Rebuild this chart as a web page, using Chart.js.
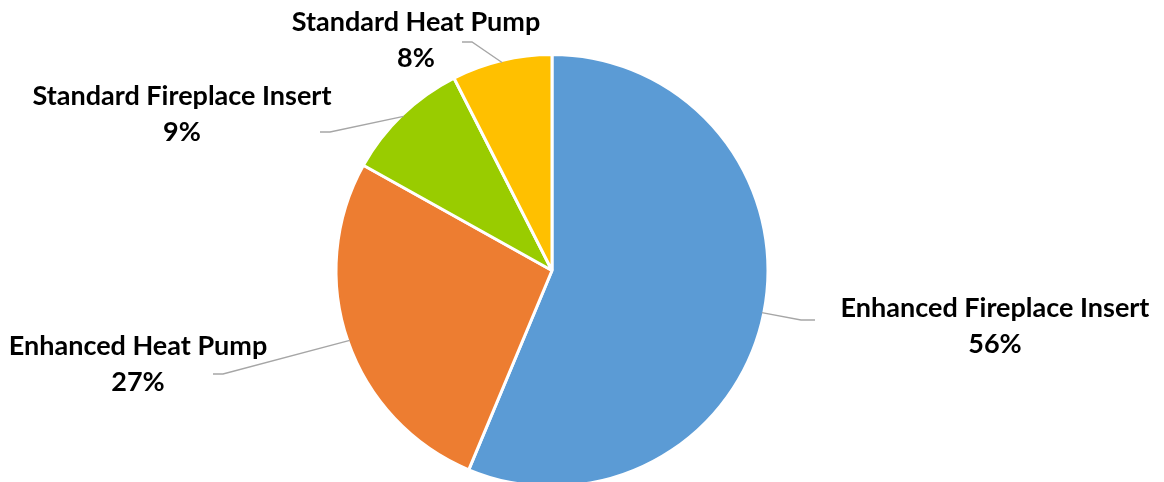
<!DOCTYPE html>
<html>
<head>
<meta charset="utf-8">
<script src="https://cdn.jsdelivr.net/npm/chart.js@4"></script>
<style>
  html, body { margin: 0; padding: 0; background: #fff; overflow: hidden; }
  #wrap { width: 1164px; height: 510px; position: relative; }
</style>
</head>
<body>
<div id="wrap"><canvas id="chart" width="1164" height="510"></canvas></div>
<script>
/* ── Data ─────────────────────────────────────────────────── */

const categories = [
  'Enhanced Fireplace Insert',
  'Enhanced Heat Pump',
  'Standard Fireplace Insert',
  'Standard Heat Pump',
];
const shares = [56.3, 26.8, 9.4, 7.5];
const sliceColors = ['#5B9BD5', '#ED7D31', '#99CC00', '#FFC000'];

/* ── Label layout (text box centre + leader end) ─────────── */

const labelLayout = [
  { cx: 995, cy: 326, ex: 815, ey: 320, side: 1 },
  { cx: 138, cy: 364, ex: 213, ey: 374, side: -1 },
  { cx: 182, cy: 114, ex: 320, ey: 132, side: -1 },
  { cx: 416, cy: 40,  ex: 462, ey: 42,  side: -1 },
];

const LABEL_FONT = 'bold 27px Lato';
const LINE_GAP = 36;

const leaderLabels = {
  id: 'leaderLabels',
  afterDatasetsDraw(chart) {
    const ctx = chart.ctx;
    const arcs = chart.getDatasetMeta(0).data;
    ctx.save();
    arcs.forEach((arc, i) => {
      const p = arc.getProps(['x', 'y', 'startAngle', 'endAngle', 'outerRadius'], true);
      const mid = (p.startAngle + p.endAngle) / 2;
      const sx = p.x + Math.cos(mid) * (p.outerRadius - 2);
      const sy = p.y + Math.sin(mid) * (p.outerRadius - 2);
      const L = labelLayout[i];
      // elbow sits a little toward the pie from the line's end
      const elbowX = L.ex + (L.side > 0 ? -14 : 10);

      ctx.strokeStyle = '#A6A6A6';
      ctx.lineWidth = 1.3;
      ctx.beginPath();
      ctx.moveTo(sx, sy);
      ctx.lineTo(elbowX, L.ey);
      ctx.lineTo(L.ex, L.ey);
      ctx.stroke();

      ctx.fillStyle = '#000';
      ctx.font = LABEL_FONT;
      ctx.textAlign = 'center';
      ctx.textBaseline = 'middle';
      ctx.fillText(categories[i], L.cx, L.cy - LINE_GAP / 2);
      ctx.fillText(Math.round(shares[i]) + '%', L.cx, L.cy + LINE_GAP / 2);
    });
    ctx.restore();
  },
};

new Chart(document.getElementById('chart'), {
  type: 'pie',
  data: {
    labels: categories,
    datasets: [{
      data: shares,
      backgroundColor: sliceColors,
      borderColor: '#ffffff',
      borderWidth: 3,
    }],
  },
  options: {
    responsive: false,
    animation: false,
    layout: { padding: { top: 53, bottom: 22, left: 0, right: 60 } },
    plugins: {
      legend: { display: false },
      tooltip: { enabled: false },
    },
  },
  plugins: [leaderLabels],
});
</script>
</body>
</html>
